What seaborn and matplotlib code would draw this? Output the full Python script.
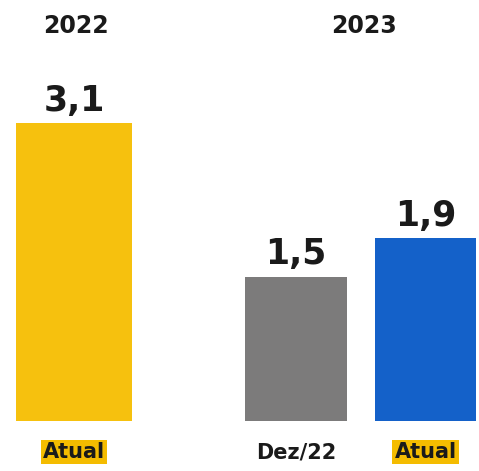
import matplotlib
matplotlib.use("Agg")
import matplotlib.pyplot as plt
import matplotlib.transforms as mtransforms
import seaborn as sns

# Data
categories = ["2022 Atual", "2023 Dez/22", "2023 Atual"]
values = [3.1, 1.5, 1.9]
value_labels = ["3,1", "1,5", "1,9"]
bottom_labels = ["Atual", "Dez/22", "Atual"]
highlighted = [True, False, True]
years = ["2022", "2023"]

# Layout / style
colors = ["#F6C10E", "#7C7B7B", "#1461C9"]
centers = [0.74, 2.96, 4.255]
widths = [1.16, 1.02, 1.01]
year_x = [0.76, 3.64]

sns.set_theme(style="white")
plt.rcParams["font.family"] = ["DejaVu Sans"]

fig = plt.figure(figsize=(4.79, 4.71), dpi=100)
ax = fig.add_axes([0, 50 / 471, 1, 418 / 471])

sns.barplot(x=categories, y=values, hue=categories, palette=colors,
            legend=False, ax=ax, saturation=1)

for p, c, w in zip(ax.patches, centers, widths):
    p.set_x(c - w / 2)
    p.set_width(w)
    p.set_edgecolor("none")

ax.set_xlim(0, 4.79)
ax.set_ylim(0, 4.35)
ax.axis("off")

for p, lab in zip(ax.patches, value_labels):
    ax.annotate(lab, (p.get_x() + p.get_width() / 2, p.get_height()),
                xytext=(0, 4), textcoords="offset points",
                ha="center", va="bottom", fontsize=25, fontweight="bold",
                color="#1a1a1a")

trans = mtransforms.blended_transform_factory(ax.transData, fig.transFigure)
for c, lab, hl in zip(centers, bottom_labels, highlighted):
    kw = {}
    if hl:
        kw["bbox"] = dict(facecolor="#F4BC00", edgecolor="none",
                          boxstyle="square,pad=0.1")
    ax.text(c, 1 - 452 / 471, lab, transform=trans, ha="center", va="center",
            fontsize=15, fontweight="bold", color="#1a1a1a", **kw)

for x, y in zip(year_x, years):
    ax.text(x, 1 - 26 / 471, y, transform=trans, ha="center", va="center",
            fontsize=17, fontweight="bold", color="#1a1a1a")

fig.savefig("out.png", dpi=100, facecolor="white")
